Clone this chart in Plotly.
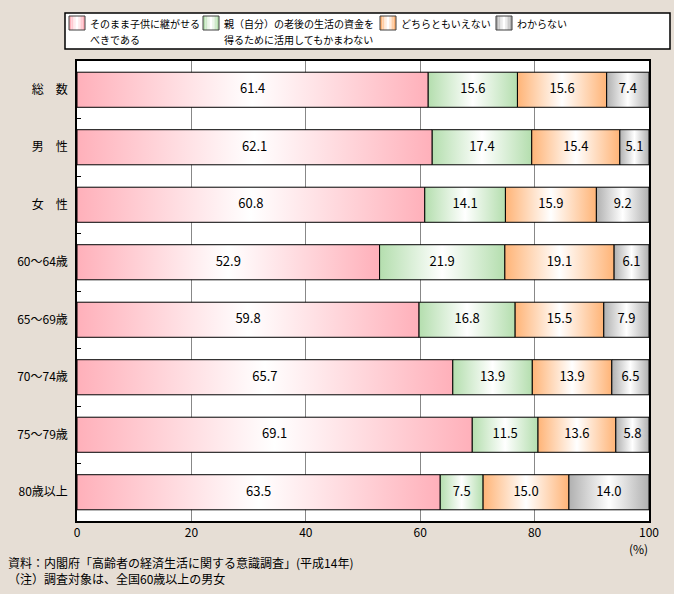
import plotly.graph_objects as go

categories = ["総　数", "男　性", "女　性", "60〜64歳", "65〜69歳", "70〜74歳", "75〜79歳", "80歳以上"]
series_names = ["そのまま子供に継がせる<br>べきである",
                "親（自分）の老後の生活の資金を<br>得るために活用してもかまわない",
                "どちらともいえない",
                "わからない"]
s_inherit = [61.4, 62.1, 60.8, 52.9, 59.8, 65.7, 69.1, 63.5]
s_use = [15.6, 17.4, 14.1, 21.9, 16.8, 13.9, 11.5, 7.5]
s_neither = [15.6, 15.4, 15.9, 19.1, 15.5, 13.9, 13.6, 15.0]
s_unknown = [7.4, 5.1, 9.2, 6.1, 7.9, 6.5, 5.8, 14.0]
x_ticks = [0, 20, 40, 60, 80, 100]

series = [s_inherit, s_use, s_neither, s_unknown]
edge_colors = ["#FFB0BA", "#B4DEAE", "#FFB477", "#B0B0B0"]

FONT = "Noto Sans CJK JP"
half = 0.305

fig = go.Figure()
for ci, cat in enumerate(categories):
    left = 0.0
    for si, vals in enumerate(series):
        v = vals[ci]
        x0, x1 = left, left + v
        fig.add_trace(go.Scatter(
            x=[x0, x1, x1, x0, x0],
            y=[ci - half, ci - half, ci + half, ci + half, ci - half],
            mode="lines", fill="toself",
            fillgradient=dict(type="horizontal",
                              colorscale=[[0, edge_colors[si]], [0.5, "#FFFFFF"], [1, edge_colors[si]]]),
            line=dict(color="black", width=1),
            showlegend=False, hoverinfo="skip"))
        left = x1

for si, vals in enumerate(series):
    mids = []
    for ci in range(len(categories)):
        base = sum(series[k][ci] for k in range(si))
        mids.append(base + vals[ci] / 2)
    fig.add_trace(go.Scatter(
        x=mids, y=list(range(len(categories))), mode="text",
        text=[f"{v:.1f}" for v in vals],
        textfont=dict(family=FONT, size=13, color="black"),
        showlegend=False, hoverinfo="skip"))

# Manual legend
W = 572.0
H = 460.0
def px_x(p):
    return (p - 77) / W
def px_y(p):
    return (521 - p) / H

shapes = [dict(type="rect", xref="paper", yref="paper",
               x0=px_x(65), x1=px_x(670), y0=px_y(49), y1=px_y(13),
               line=dict(color="black", width=1.5), fillcolor="white", layer="above")]
annotations = []
leg_x = [69, 203, 380, 496]  # pixel positions of swatches

def blend(c, t):
    c = c.lstrip("#")
    r, g, b = int(c[0:2], 16), int(c[2:4], 16), int(c[4:6], 16)
    r = int(r + (255 - r) * t); g = int(g + (255 - g) * t); b = int(b + (255 - b) * t)
    return f"rgb({r},{g},{b})"

for i, name in enumerate(series_names):
    sx = leg_x[i]
    strips = [0, 0.35, 0.75, 1.0, 0.75, 0.35, 0]
    sw = 16 / len(strips)
    for k, t in enumerate(strips):
        shapes.append(dict(type="rect", xref="paper", yref="paper",
                           x0=px_x(sx + k * sw), x1=px_x(sx + (k + 1) * sw),
                           y0=px_y(30), y1=px_y(16), line=dict(width=0),
                           fillcolor=blend(edge_colors[i], t), layer="above"))
    shapes.append(dict(type="rect", xref="paper", yref="paper",
                       x0=px_x(sx), x1=px_x(sx + 16), y0=px_y(30), y1=px_y(16),
                       line=dict(color="#404040", width=1), layer="above"))
    for li, line in enumerate(name.split("<br>")):
        annotations.append(dict(xref="paper", yref="paper", x=px_x(sx + 19), y=px_y(23 + 16 * li),
                                xanchor="left", yanchor="middle", text=line, showarrow=False,
                                align="left", font=dict(family=FONT, size=10, color="black")))

annotations += [
    dict(xref="paper", yref="paper", x=px_x(650), y=px_y(548), xanchor="right", yanchor="middle",
         text="(%)", showarrow=False, font=dict(family=FONT, size=12, color="black")),
    dict(xref="paper", yref="paper", x=px_x(6), y=px_y(562), xanchor="left", yanchor="middle",
         text="資料：内閣府「高齢者の経済生活に関する意識調査」(平成14年)", showarrow=False,
         font=dict(family=FONT, size=12, color="black")),
    dict(xref="paper", yref="paper", x=px_x(6), y=px_y(578), xanchor="left", yanchor="middle",
         text="（注）調査対象は、全国60歳以上の男女", showarrow=False,
         font=dict(family=FONT, size=12, color="black")),
]

fig.update_layout(
    width=674, height=594,
    margin=dict(l=77, r=25, t=61, b=73),
    paper_bgcolor="#E6DED5", plot_bgcolor="white",
    shapes=shapes, annotations=annotations,
    showlegend=False,
    font=dict(family=FONT, size=12, color="black"),
)
fig.update_xaxes(range=[0, 100], tickvals=x_ticks, ticks="", showgrid=True,
                 gridcolor="#888888", gridwidth=1, zeroline=False,
                 showline=True, linecolor="black", linewidth=1.5, mirror=True,
                 tickfont=dict(family=FONT, size=12, color="black"), fixedrange=True)
fig.update_yaxes(range=[len(categories) - 0.5, -0.5],
                 tickvals=list(range(len(categories))), ticktext=categories,
                 ticks="", showgrid=False, zeroline=False,
                 showline=True, linecolor="black", linewidth=1.5, mirror=True,
                 minor=dict(tickvals=[i + 0.5 for i in range(len(categories) - 1)],
                            ticks="inside", ticklen=4, tickcolor="black", showgrid=False),
                 tickfont=dict(family=FONT, size=12, color="black"), ticklabelstandoff=5,
                 fixedrange=True)

fig.write_html("out.html", config={"displayModeBar": False},
               post_script="document.body.style.margin='0';")
